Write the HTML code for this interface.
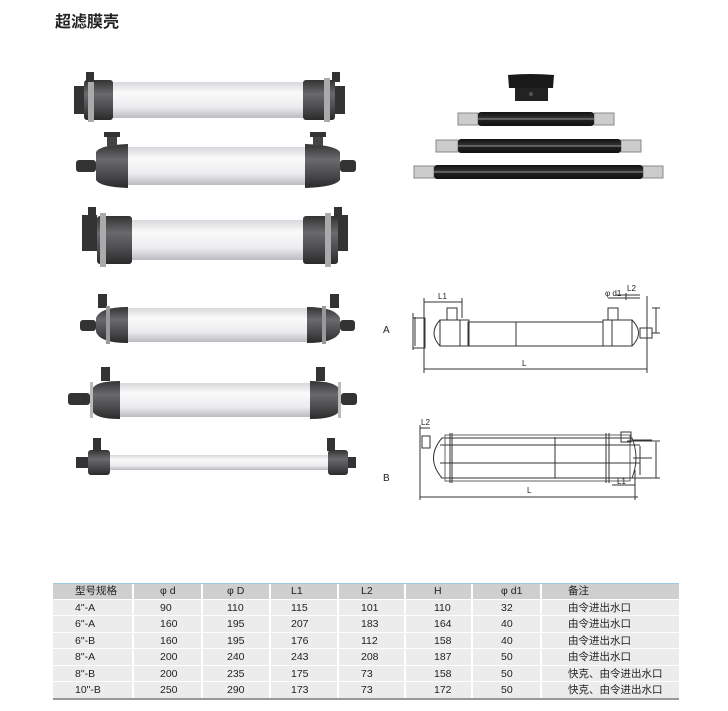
<!DOCTYPE html>
<html><head><meta charset="utf-8"><style>
body{margin:0;background:#fff;width:728px;height:711px;overflow:hidden;font-family:"Liberation Sans","Noto Sans CJK SC",sans-serif}
.t{position:absolute;left:55px;top:8px;font-size:16px;font-weight:bold;color:#222}
</style></head><body>
<div class="t">超滤膜壳</div>
<svg width="728" height="711" style="position:absolute;left:0;top:0" xmlns="http://www.w3.org/2000/svg">
<defs>
<linearGradient id="w" x1="0" y1="0" x2="0" y2="1"><stop offset="0" stop-color="#d8d8dc"/><stop offset=".3" stop-color="#fafafa"/><stop offset=".7" stop-color="#ececef"/><stop offset="1" stop-color="#bcbcc0"/></linearGradient>
<linearGradient id="c" x1="0" y1="0" x2="0" y2="1"><stop offset="0" stop-color="#333"/><stop offset=".35" stop-color="#6a6a6e"/><stop offset=".7" stop-color="#4a4a4e"/><stop offset="1" stop-color="#2a2a2a"/></linearGradient>
<linearGradient id="r" x1="0" y1="0" x2="0" y2="1"><stop offset="0" stop-color="#111"/><stop offset=".45" stop-color="#333"/><stop offset=".5" stop-color="#ccc"/><stop offset=".55" stop-color="#222"/><stop offset="1" stop-color="#111"/></linearGradient>
</defs>
<g><rect x="113" y="82" width="190" height="36" fill="url(#w)"/>
<rect x="84" y="80" width="29" height="40" rx="3" fill="url(#c)"/><rect x="303" y="80" width="32" height="40" rx="3" fill="url(#c)"/>
<rect x="74" y="86" width="10" height="28" fill="#333"/><rect x="335" y="86" width="10" height="28" fill="#333"/>
<rect x="88" y="78" width="6" height="44" fill="#aaa"/><rect x="324" y="78" width="6" height="44" fill="#aaa"/>
<rect x="86" y="72" width="8" height="10" fill="#333"/><rect x="332" y="72" width="8" height="10" fill="#333"/></g>
<g><rect x="128" y="147" width="177" height="38" fill="url(#w)"/>
<path d="M96 152 Q100 145 128 144 L128 188 Q100 187 96 180 Z" fill="url(#c)"/><path d="M305 144 Q335 145 340 152 L340 180 Q335 187 305 188Z" fill="url(#c)"/>
<rect x="76" y="160" width="20" height="12" rx="3" fill="#333"/><rect x="340" y="160" width="16" height="12" rx="3" fill="#333"/>
<rect x="107" y="132" width="10" height="14" fill="#444"/><rect x="104" y="132" width="16" height="5" fill="#333"/>
<rect x="313" y="132" width="10" height="14" fill="#444"/><rect x="310" y="132" width="16" height="5" fill="#333"/></g>
<g><rect x="132" y="220" width="171" height="40" fill="url(#w)"/>
<rect x="97" y="216" width="35" height="48" rx="3" fill="url(#c)"/><rect x="303" y="216" width="35" height="48" rx="3" fill="url(#c)"/>
<rect x="82" y="215" width="15" height="36" fill="#333"/><rect x="338" y="215" width="10" height="36" fill="#333"/>
<rect x="100" y="213" width="6" height="54" fill="#aaa"/><rect x="325" y="213" width="6" height="54" fill="#aaa"/>
<rect x="88" y="207" width="8" height="12" fill="#333"/><rect x="334" y="207" width="8" height="12" fill="#333"/></g>
<g><rect x="128" y="308" width="179" height="34" fill="url(#w)"/>
<path d="M96 318 Q100 307 128 307 L128 343 Q100 343 96 332Z" fill="url(#c)"/><path d="M307 307 Q335 307 340 318 L340 332 Q335 343 307 343Z" fill="url(#c)"/>
<rect x="80" y="320" width="16" height="11" rx="3" fill="#333"/><rect x="340" y="320" width="15" height="11" rx="3" fill="#333"/>
<rect x="98" y="294" width="9" height="14" fill="#333"/><rect x="330" y="294" width="9" height="14" fill="#333"/>
<rect x="106" y="306" width="4" height="38" fill="#999"/><rect x="322" y="306" width="4" height="38" fill="#999"/></g>
<g><rect x="120" y="383" width="190" height="34" fill="url(#w)"/>
<path d="M92 390 Q94 381 120 381 L120 419 Q94 419 92 410Z" fill="url(#c)"/><path d="M310 381 Q336 381 340 390 L340 410 Q336 419 310 419Z" fill="url(#c)"/>
<rect x="90" y="382" width="3" height="36" fill="#bbb"/><rect x="338" y="382" width="3" height="36" fill="#bbb"/>
<rect x="68" y="393" width="22" height="12" rx="3" fill="#333"/><rect x="341" y="393" width="16" height="12" rx="3" fill="#333"/>
<rect x="101" y="367" width="9" height="14" fill="#333"/><rect x="316" y="367" width="9" height="14" fill="#333"/></g>
<g><rect x="110" y="455" width="218" height="15" fill="url(#w)"/>
<rect x="88" y="450" width="22" height="25" rx="3" fill="url(#c)"/><rect x="328" y="450" width="20" height="25" rx="3" fill="url(#c)"/>
<rect x="76" y="457" width="12" height="11" fill="#333"/><rect x="348" y="457" width="8" height="11" fill="#333"/>
<rect x="93" y="438" width="8" height="13" fill="#333"/><rect x="327" y="438" width="8" height="13" fill="#333"/></g>
<path d="M508 75 Q530 73 554 75 L553 88 L509 88Z" fill="#1a1a1a"/><rect x="515" y="88" width="33" height="13" fill="#222"/><circle cx="531" cy="94" r="2" fill="#555"/>
<rect x="458" y="113" width="20" height="12" fill="#ccc" stroke="#888"/><rect x="594" y="113" width="20" height="12" fill="#ccc" stroke="#888"/><rect x="478" y="112" width="116" height="14" rx="3" fill="url(#r)"/>
<rect x="436" y="140" width="22" height="12" fill="#ccc" stroke="#888"/><rect x="621" y="140" width="20" height="12" fill="#ccc" stroke="#888"/><rect x="458" y="139" width="163" height="14" rx="3" fill="url(#r)"/>
<rect x="414" y="166" width="20" height="12" fill="#ccc" stroke="#888"/><rect x="643" y="166" width="20" height="12" fill="#ccc" stroke="#888"/><rect x="434" y="165" width="209" height="14" rx="3" fill="url(#r)"/>
<g fill="none" stroke="#333" stroke-width="1" font-size="8" font-family="Liberation Sans">
<rect x="468" y="322" width="135" height="24"/>
<rect x="413" y="318" width="12" height="30"/>
<path d="M440 320 Q428 333 440 346"/><rect x="440" y="320" width="20" height="26"/><rect x="460" y="320" width="9" height="26"/>
<rect x="447" y="308" width="10" height="12"/>
<rect x="603" y="320" width="9" height="26"/><rect x="612" y="320" width="20" height="26"/><path d="M632 320 Q645 333 632 346"/>
<rect x="608" y="308" width="10" height="12"/><rect x="640" y="328" width="12" height="10"/>
<path d="M413 313 V350 M424 298 V373 M462 298 V318 M424 302 H462 M647 296 V373 M424 369 H647 M608 298 H640 M626 293 V300 M616 295 H640 M647 306 V340 M652 308 H660 M652 333 H660 M656 308 V333 M415 317 V346 M516 322 V346"/>
<text x="438" y="299" fill="#222" stroke="none">L1</text><text x="627" y="291" fill="#222" stroke="none">L2</text><text x="605" y="296" fill="#222" stroke="none">φ d1</text>
<text x="522" y="366" fill="#222" stroke="none">L</text>
<text x="383" y="333" font-size="10" fill="#222" stroke="none">A</text>
</g>
<g fill="none" stroke="#333" stroke-width="1" font-size="8" font-family="Liberation Sans">
<path d="M442 438 H632 Q640 458 632 478 H442 Q425 458 442 438Z"/>
<path d="M445 435 H630 V481 H445Z" stroke="#666"/>
<path d="M440 445 H640 M440 463 H640"/>
<path d="M450 433 V483 M452 433 V483 M606 433 V483 M609 433 V483"/>
<rect x="422" y="436" width="8" height="12"/><rect x="621" y="432" width="10" height="10"/>
<path d="M420 425 V500 M635 470 V500 M420 497 H638 M420 428 H430 M612 485 H635 M633 440 H652 M633 458 H652 M640 446 V475 M656 442 V478 M627 441 H660 M627 478 H660 M555 437 V478"/>
<text x="421" y="425" fill="#222" stroke="none">L2</text><text x="617" y="484" fill="#222" stroke="none">L1</text>
<text x="527" y="493" fill="#222" stroke="none">L</text>
<text x="383" y="481" font-size="10" fill="#222" stroke="none">B</text>
</g>
</svg>
<style>
.tb{position:absolute;left:53px;top:583px;width:626px;font-size:10.5px;color:#222}
.r{display:flex;height:16.6px;line-height:16px;border-bottom:1px solid #fff;background:#ececec;box-sizing:border-box}
.r.h{background:#cfcfcf;border-top:1px solid #9cc8e0;height:16.5px;line-height:15px}
.r div{box-sizing:border-box;border-left:2px solid #fff;white-space:nowrap;overflow:hidden}
.r div:first-child{border-left:none}
.c0{width:79px;padding-left:22px}.c1{width:69px;padding-left:26px}.c2{width:68px;padding-left:24px}.c3{width:68px;padding-left:20px}.c4{width:67px;padding-left:22px}.c5{width:67px;padding-left:28px}.c6{width:69px;padding-left:28px}.c7{flex:1;padding-left:26px}
.bot{position:absolute;left:53px;top:698px;width:626px;height:2px;background:#999}
</style>
<div class="tb">
<div class="r h"><div class="c0">型号规格</div><div class="c1">φ d</div><div class="c2">φ D</div><div class="c3">L1</div><div class="c4">L2</div><div class="c5">H</div><div class="c6">φ d1</div><div class="c7">备注</div></div>
<div class="r"><div class="c0">4"-A</div><div class="c1">90</div><div class="c2">110</div><div class="c3">115</div><div class="c4">101</div><div class="c5">110</div><div class="c6">32</div><div class="c7">由令进出水口</div></div>
<div class="r"><div class="c0">6"-A</div><div class="c1">160</div><div class="c2">195</div><div class="c3">207</div><div class="c4">183</div><div class="c5">164</div><div class="c6">40</div><div class="c7">由令进出水口</div></div>
<div class="r"><div class="c0">6"-B</div><div class="c1">160</div><div class="c2">195</div><div class="c3">176</div><div class="c4">112</div><div class="c5">158</div><div class="c6">40</div><div class="c7">由令进出水口</div></div>
<div class="r"><div class="c0">8"-A</div><div class="c1">200</div><div class="c2">240</div><div class="c3">243</div><div class="c4">208</div><div class="c5">187</div><div class="c6">50</div><div class="c7">由令进出水口</div></div>
<div class="r"><div class="c0">8"-B</div><div class="c1">200</div><div class="c2">235</div><div class="c3">175</div><div class="c4">73</div><div class="c5">158</div><div class="c6">50</div><div class="c7">快克、由令进出水口</div></div>
<div class="r"><div class="c0">10"-B</div><div class="c1">250</div><div class="c2">290</div><div class="c3">173</div><div class="c4">73</div><div class="c5">172</div><div class="c6">50</div><div class="c7">快克、由令进出水口</div></div>
</div>
<div class="bot"></div>
</body></html>
